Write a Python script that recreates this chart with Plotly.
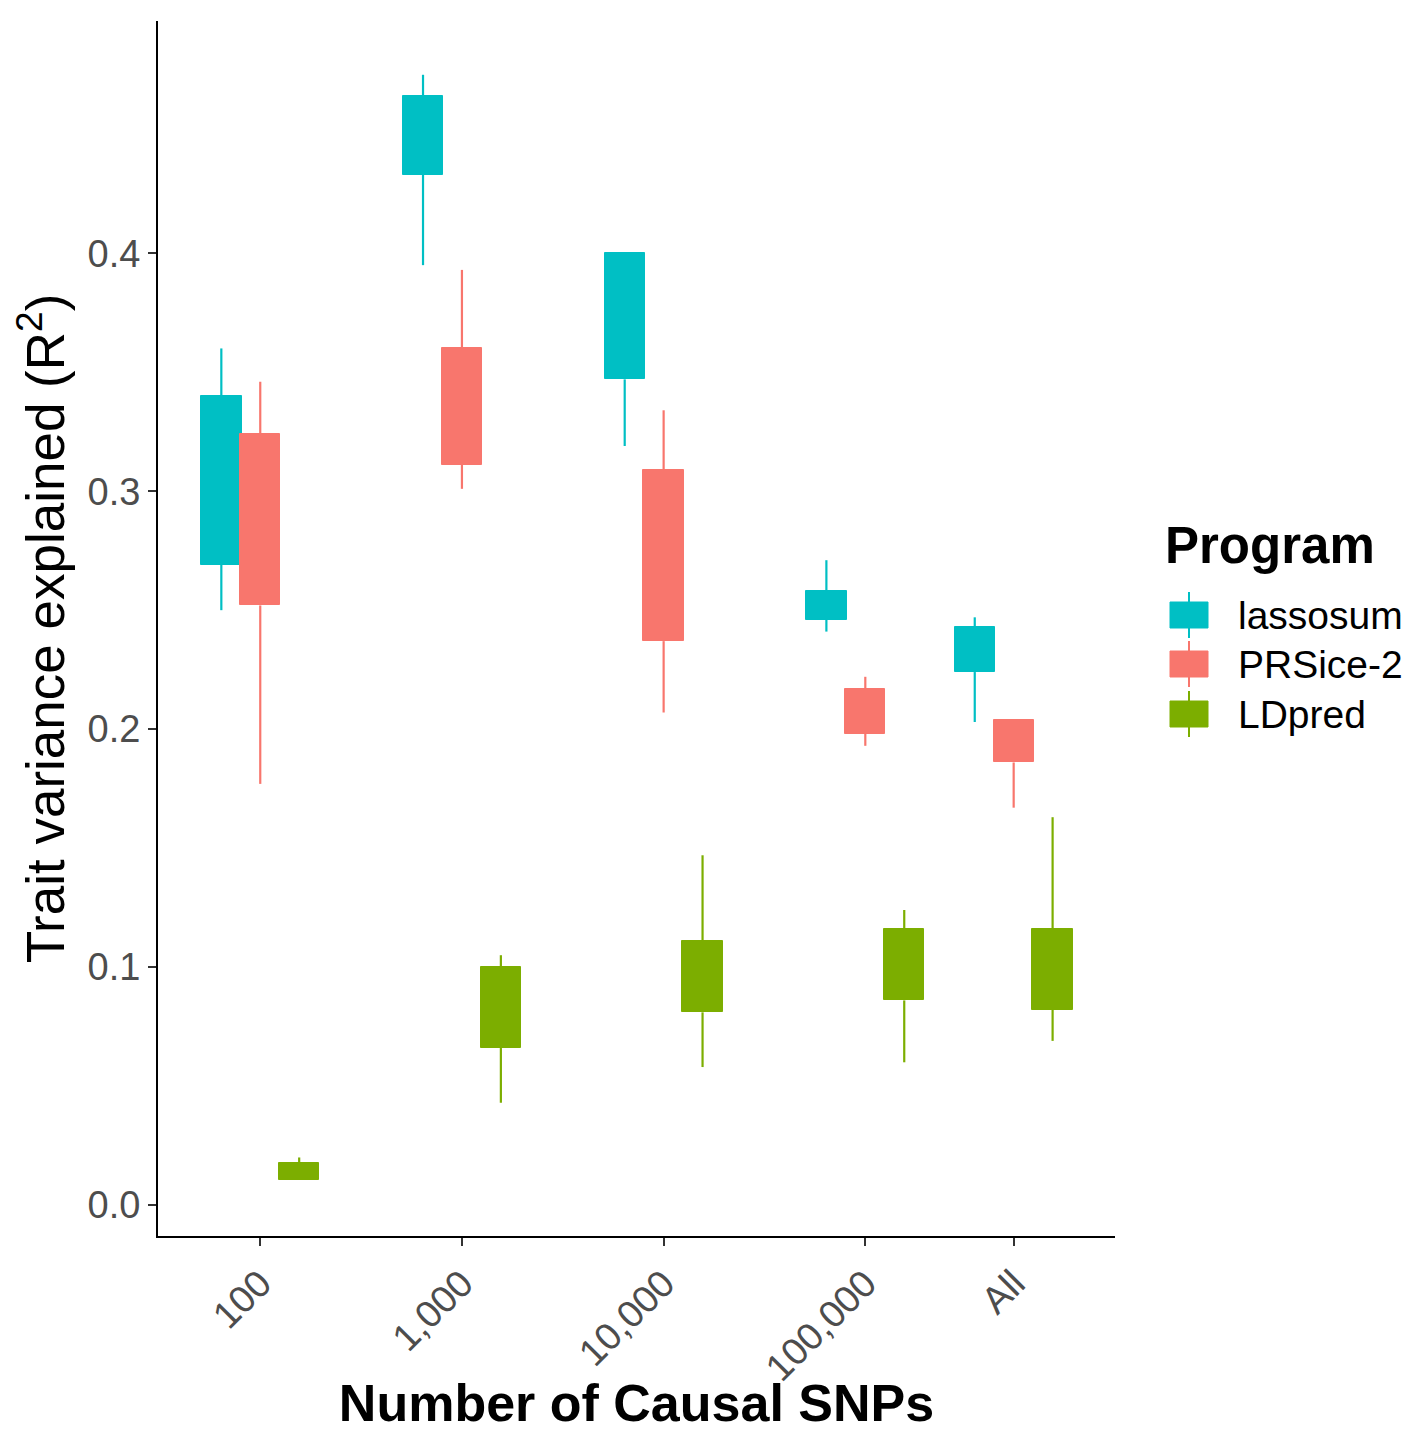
import numpy as np
import plotly.graph_objects as go

# Number of causal SNPs simulated ("All" = every SNP in the panel)
causal_counts = [100, 1000, 10000, 100000, 544000]
tick_labels = ["100", "1,000", "10,000", "100,000", "All"]

programs = ["lassosum", "PRSice-2", "LDpred"]

# Box summaries of trait variance explained (R^2): whisker ends and quartiles
lassosum_hi = [0.360, 0.475, 0.400, 0.271, 0.247]
lassosum_q3 = [0.340, 0.466, 0.400, 0.258, 0.243]
lassosum_q1 = [0.269, 0.433, 0.347, 0.246, 0.224]
lassosum_lo = [0.250, 0.395, 0.319, 0.241, 0.203]

prsice_hi = [0.346, 0.393, 0.334, 0.222, 0.204]
prsice_q3 = [0.324, 0.360, 0.309, 0.217, 0.204]
prsice_q1 = [0.252, 0.311, 0.237, 0.198, 0.186]
prsice_lo = [0.177, 0.301, 0.207, 0.193, 0.167]

ldpred_hi = [0.020, 0.105, 0.147, 0.124, 0.163]
ldpred_q3 = [0.0175, 0.100, 0.111, 0.116, 0.116]
ldpred_q1 = [0.0105, 0.066, 0.081, 0.086, 0.082]
ldpred_lo = [0.0105, 0.043, 0.058, 0.060, 0.069]

colors = {"lassosum": "#00BFC4", "PRSice-2": "#F8766D", "LDpred": "#7CAE00"}
series = {
    "lassosum": (lassosum_lo, lassosum_q1, lassosum_q3, lassosum_hi),
    "PRSice-2": (prsice_lo, prsice_q1, prsice_q3, prsice_hi),
    "LDpred": (ldpred_lo, ldpred_q1, ldpred_q3, ldpred_hi),
}

W, H = 1412, 1432
M_L, M_R, M_T, M_B = 158, 297, 21, 196
plot_w = W - M_L - M_R
plot_h = H - M_T - M_B


def px_x(px):
    return (px - M_L) / plot_w


def px_y(py):
    return (H - M_B - py) / plot_h


x_base = np.log10(causal_counts)
dodge = 0.193
box_w = 0.2

fig = go.Figure()
for i, prog in enumerate(programs):
    lo, q1, q3, hi = (np.array(v) for v in series[prog])
    xs = x_base + (i - 1) * dodge
    col = colors[prog]
    # box body
    fig.add_trace(go.Bar(
        x=xs, base=q1, y=q3 - q1, width=box_w,
        marker=dict(color=col, line=dict(color=col, width=1)),
        name=prog, showlegend=False,
    ))
    # whiskers (upper and lower segments)
    wx, wy = [], []
    for xv, a, b, c, d in zip(xs, lo, q1, q3, hi):
        wx += [xv, xv, None, xv, xv, None]
        wy += [a, b, None, c, d, None]
    fig.add_trace(go.Scatter(
        x=wx, y=wy, mode="lines", line=dict(color=col, width=2.2),
        showlegend=False, hoverinfo="skip",
    ))

font_family = "Liberation Sans, Arial, sans-serif"

# Legend: title, box-shaped keys and labels placed beside the panel
shapes = []
annotations = [dict(
    text="<b>Program</b>", x=px_x(1163), y=px_y(545), xref="paper", yref="paper",
    xanchor="left", yanchor="middle", showarrow=False,
    font=dict(size=51, color="black", family=font_family),
)]
row_centers = [615, 664, 714]
for prog, cy in zip(programs, row_centers):
    col = colors[prog]
    shapes.append(dict(
        type="line", xref="paper", yref="paper",
        x0=px_x(1189), x1=px_x(1189), y0=px_y(cy - 23), y1=px_y(cy + 23),
        line=dict(color=col, width=2),
    ))
    shapes.append(dict(
        type="rect", xref="paper", yref="paper",
        x0=px_x(1170), x1=px_x(1208), y0=px_y(cy - 13), y1=px_y(cy + 13),
        fillcolor=col, line=dict(color=col, width=1),
    ))
    annotations.append(dict(
        text=prog, x=px_x(1236), y=px_y(cy), xref="paper", yref="paper",
        xanchor="left", yanchor="middle", showarrow=False,
        font=dict(size=39, color="black", family=font_family),
    ))

fig.update_layout(
    width=W, height=H,
    margin=dict(l=M_L, r=M_R, t=M_T, b=M_B),
    plot_bgcolor="white", paper_bgcolor="white",
    barmode="overlay", bargap=0,
    font=dict(family=font_family, color="black"),
    showlegend=False,
    shapes=shapes, annotations=annotations,
)

fig.update_xaxes(
    range=[1.493, 6.238], automargin=False,
    tickmode="array", tickvals=x_base, ticktext=tick_labels,
    tickangle=-45, tickfont=dict(size=38, color="#4D4D4D"),
    ticks="outside", ticklen=8, tickwidth=2, tickcolor="#333333",
    showline=True, linecolor="black", linewidth=2,
    showgrid=False, zeroline=False,
    title=dict(text="<b>Number of Causal SNPs</b>", font=dict(size=52, color="black"), standoff=10),
)
fig.update_yaxes(
    range=[-0.013, 0.4976], automargin=False,
    tickmode="array", tickvals=[0.0, 0.1, 0.2, 0.3, 0.4],
    ticktext=["0.0", "0.1", "0.2", "0.3", "0.4"],
    tickfont=dict(size=38, color="#4D4D4D"),
    ticks="outside", ticklen=8, tickwidth=2, tickcolor="#333333",
    showline=True, linecolor="black", linewidth=2,
    showgrid=False, zeroline=False,
    title=dict(text="Trait variance explained (R<sup>2</sup>)", font=dict(size=53, color="black"), standoff=6),
)

fig.write_html("out.html")
